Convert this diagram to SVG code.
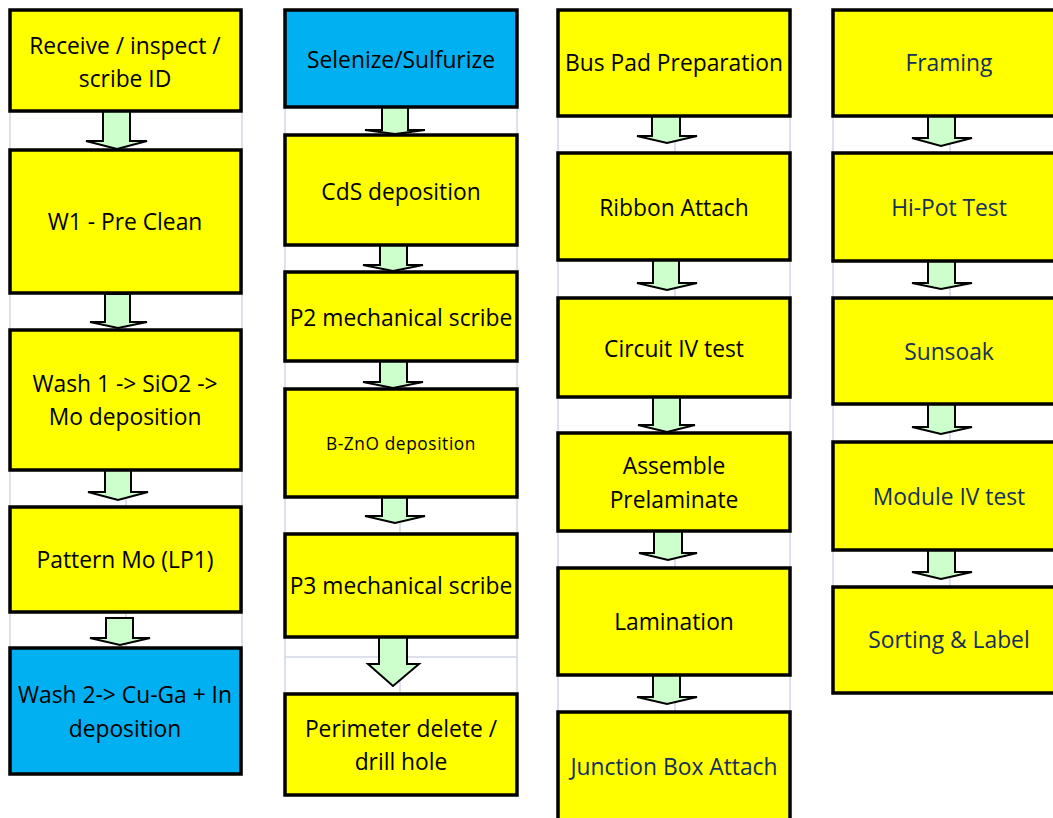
<svg xmlns="http://www.w3.org/2000/svg" width="1053" height="818" viewBox="0 0 1053 818">
<style>
.grid line{stroke:#d0d7e5;stroke-width:1.5}
.y{fill:#ffff00;stroke:#000;stroke-width:3.5}
.b{fill:#00b0f0;stroke:#000;stroke-width:3.5}
.ar{fill:#ccffcc;stroke:#000;stroke-width:2;stroke-linejoin:miter}
text{font-family:"Open Sans",Lato,"Liberation Sans",sans-serif;font-size:22.8px;text-anchor:middle;fill:#000}
.n{fill:#142f5a}
.s{font-size:17.3px;letter-spacing:0.6px}
</style>
<rect width="1053" height="818" fill="#fff"/>
<g class="grid">
<line x1="10" y1="10" x2="10" y2="775"/><line x1="126" y1="10" x2="126" y2="775"/><line x1="242" y1="10" x2="242" y2="775"/>
<line x1="285" y1="10" x2="285" y2="795"/><line x1="400" y1="10" x2="400" y2="795"/><line x1="517" y1="10" x2="517" y2="795"/>
<line x1="285" y1="657" x2="517" y2="657"/>
<line x1="558" y1="10" x2="558" y2="818"/><line x1="675" y1="10" x2="675" y2="818"/><line x1="790" y1="10" x2="790" y2="818"/>
<line x1="833" y1="10" x2="833" y2="693"/><line x1="950" y1="10" x2="950" y2="693"/>
</g>
<g id="connectors">
<path class="ar" d="M103,111 H130 V141 H147 L117,149 L86,141 H103 Z"/>
<path class="ar" d="M105,294 H130 V322 H147 L118,328 L90,322 H105 Z"/>
<path class="ar" d="M105,470 H131 V492 H148 L118,500 L88,492 H105 Z"/>
<path class="ar" d="M106,618 H133 V638 H150 L120,645 L90,638 H106 Z"/>
<path class="ar" d="M382,107 H408 V130 H425 L395,134 L365,130 H382 Z"/>
<path class="ar" d="M380,245 H407 V265 H423 L393,271 L363,265 H380 Z"/>
<path class="ar" d="M380,361 H407 V382 H423 L393,388 L363,382 H380 Z"/>
<path class="ar" d="M382,497 H407 V516 H425 L395,523 L365,516 H382 Z"/>
<path class="ar" d="M379,637 H407 V664 H419 L393,686 L368,664 H379 Z"/>
<path class="ar" d="M652,116 H680 V136 H697 L667,143 L637,136 H652 Z"/>
<path class="ar" d="M653,260 H679 V283 H697 L667,290 L637,283 H653 Z"/>
<path class="ar" d="M653,397 H680 V425 H695 L667,432 L638,425 H653 Z"/>
<path class="ar" d="M654,531 H682 V553 H697 L668,560 L639,553 H654 Z"/>
<path class="ar" d="M653,675 H680 V697 H697 L667,704 L637,697 H653 Z"/>
<path class="ar" d="M928,116 H955 V138 H972 L941,146 L912,138 H928 Z"/>
<path class="ar" d="M928,261 H955 V283 H972 L941,289 L912,283 H928 Z"/>
<path class="ar" d="M928,404 H955 V427 H972 L941,434 L912,427 H928 Z"/>
<path class="ar" d="M928,550 H955 V572 H972 L941,579 L912,572 H928 Z"/>
</g>
<g id="n1"><rect class="y" x="10" y="10" width="231" height="101"/><text x="125" y="54">Receive / inspect /</text><text x="125" y="87">scribe ID</text></g>
<g id="n2"><rect class="y" x="10" y="150" width="231" height="143"/><text x="125" y="230">W1 - Pre Clean</text></g>
<g id="n3"><rect class="y" x="10" y="330" width="231" height="140"/><text x="125" y="392">Wash 1 -&gt; SiO2 -&gt;</text><text x="125" y="425">Mo deposition</text></g>
<g id="n4"><rect class="y" x="10" y="507" width="231" height="105"/><text x="125" y="568">Pattern Mo (LP1)</text></g>
<g id="n5"><rect class="b" x="10" y="648" width="231" height="126"/><text x="125" y="703">Wash 2-&gt; Cu-Ga + In</text><text x="125" y="737">deposition</text></g>
<g id="n6"><rect class="b" x="285" y="10" width="232" height="97"/><text x="401" y="68">Selenize/Sulfurize</text></g>
<g id="n7"><rect class="y" x="285" y="135" width="232" height="110"/><text x="401" y="200">CdS deposition</text></g>
<g id="n8"><rect class="y" x="285" y="272" width="232" height="89"/><text x="401" y="326">P2 mechanical scribe</text></g>
<g id="n9"><rect class="y" x="285" y="389" width="232" height="108"/><text class="s" x="401" y="450">B-ZnO deposition</text></g>
<g id="n10"><rect class="y" x="285" y="534" width="232" height="103"/><text x="401" y="594">P3 mechanical scribe</text></g>
<g id="n11"><rect class="y" x="285" y="694" width="232" height="101"/><text x="401" y="737">Perimeter delete /</text><text x="401" y="770">drill hole</text></g>
<g id="n12"><rect class="y" x="558" y="10" width="232" height="106"/><text x="674" y="71">Bus Pad Preparation</text></g>
<g id="n13"><rect class="y" x="558" y="153" width="232" height="107"/><text x="674" y="216">Ribbon Attach</text></g>
<g id="n14"><rect class="y" x="558" y="298" width="232" height="99"/><text x="674" y="357">Circuit IV test</text></g>
<g id="n15"><rect class="y" x="558" y="433" width="232" height="98"/><text x="674" y="474">Assemble</text><text x="674" y="508">Prelaminate</text></g>
<g id="n16"><rect class="y" x="558" y="568" width="232" height="107"/><text x="674" y="630">Lamination</text></g>
<g id="n17"><rect class="y" x="558" y="712" width="232" height="120"/><text class="n" x="674" y="775">Junction Box Attach</text></g>
<g id="n18"><rect class="y" x="833" y="10" width="232" height="106"/><text class="n" x="949" y="71">Framing</text></g>
<g id="n19"><rect class="y" x="833" y="153" width="232" height="108"/><text class="n" x="949" y="216">Hi-Pot Test</text></g>
<g id="n20"><rect class="y" x="833" y="298" width="232" height="106"/><text class="n" x="949" y="360">Sunsoak</text></g>
<g id="n21"><rect class="y" x="833" y="442" width="232" height="108"/><text class="n" x="949" y="505">Module IV test</text></g>
<g id="n22"><rect class="y" x="833" y="587" width="232" height="106"/><text class="n" x="949" y="648">Sorting &amp; Label</text></g>
</svg>
